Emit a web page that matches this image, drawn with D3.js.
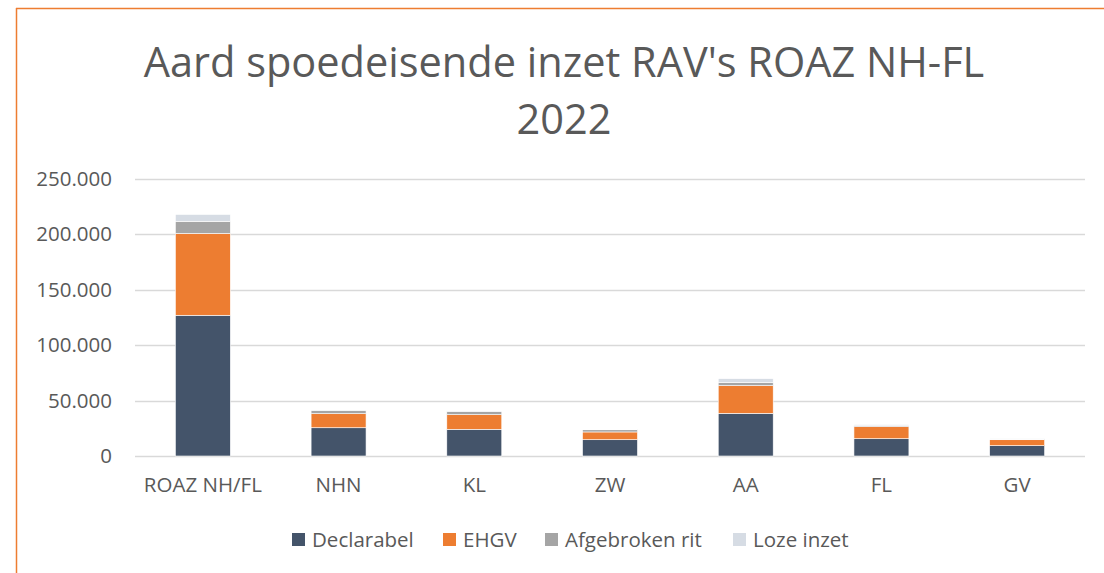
<!DOCTYPE html>
<html>
<head>
<meta charset="utf-8">
<script src="https://cdn.jsdelivr.net/npm/d3@7"></script>
<style>
  html, body { margin: 0; padding: 0; background: #ffffff; }
  svg { display: block; }
  text { font-family: "Open Sans", "Noto Sans", sans-serif; fill: #595959; }
</style>
</head>
<body>
<svg id="chart" width="1104" height="573"></svg>
<script>
// Regions (RAV areas) within ROAZ NH-FL
const categories = ["ROAZ NH/FL", "NHN", "KL", "ZW", "AA", "FL", "GV"];

// Number of urgent ambulance deployments per type, 2022
const declarabel = [127000, 25500, 24100, 14700, 38500, 15600, 9300];
const ehgv       = [ 73800, 12700, 13200,  7000, 25000, 10900, 5400];
const afgebroken = [ 11000,  2700,  2700,  2000,  2700,  1000,  500];
const lozeInzet  = [  6200,   500,   500,   400,  3600,   800,  500];

const seriesNames = ["Declarabel", "EHGV", "Afgebroken rit", "Loze inzet"];
const seriesValues = [declarabel, ehgv, afgebroken, lozeInzet];
const seriesColors = ["#44546A", "#ED7D31", "#A5A5A5", "#D6DCE4"];

const yTicks = [0, 50000, 100000, 150000, 200000, 250000];
const titleLines = ["Aard spoedeisende inzet RAV's ROAZ NH-FL", "2022"];

const svg = d3.select("#chart");

// Chart frame (only top and left edges are within view)
svg.append("line").attr("x1", 16).attr("x2", 1104).attr("y1", 8.5).attr("y2", 8.5)
  .attr("stroke", "#ED7D31").attr("stroke-width", 1.5);
svg.append("line").attr("x1", 16.5).attr("x2", 16.5).attr("y1", 8).attr("y2", 573)
  .attr("stroke", "#ED7D31").attr("stroke-width", 1.5);

// Title
svg.append("text")
  .attr("x", 564).attr("text-anchor", "middle")
  .style("font-size", "41.5px")
  .selectAll("tspan").data(titleLines).join("tspan")
  .attr("x", 564)
  .attr("y", (d, i) => 77 + i * 57)
  .text(d => d);

const plot = { left: 135, right: 1085, top: 179, bottom: 456 };

const x = d3.scaleBand().domain(categories)
  .range([plot.left, plot.right]).paddingInner(0.595).paddingOuter(0.2975);
const y = d3.scaleLinear().domain([0, 250000]).range([plot.bottom, plot.top]);

const fmt = v => d3.format(",")(v).replace(/,/g, ".");

// Gridlines
svg.append("g").selectAll("line").data(yTicks).join("line")
  .attr("x1", plot.left).attr("x2", plot.right)
  .attr("y1", d => Math.round(y(d)) + 0.5).attr("y2", d => Math.round(y(d)) + 0.5)
  .attr("stroke", "#D9D9D9").attr("stroke-width", 1.5);

// Y axis labels
const yAxis = d3.axisLeft(y).tickValues(yTicks).tickFormat(fmt).tickSize(0).tickPadding(0);
const gy = svg.append("g").attr("transform", `translate(${plot.left - 23},0)`).call(yAxis);
gy.select(".domain").remove();
gy.selectAll("text").style("font-size", "20.5px").attr("fill", "#595959")
  .style("font-family", "'Open Sans', sans-serif");

// X axis labels
const xAxis = d3.axisBottom(x).tickSize(0).tickPadding(0);
const gx = svg.append("g").attr("transform", `translate(0,${plot.bottom + 21})`).call(xAxis);
gx.select(".domain").remove();
gx.selectAll("text").style("font-size", "20.5px").attr("fill", "#595959")
  .style("font-family", "'Open Sans', sans-serif");

// Stacked bars
const rows = categories.map((c, i) => {
  const r = { cat: c };
  seriesNames.forEach((s, j) => { r[s] = seriesValues[j][i]; });
  return r;
});
const stacked = d3.stack().keys(seriesNames)(rows);

svg.append("g").selectAll("g").data(stacked).join("g")
  .attr("fill", (d, i) => seriesColors[i])
  .selectAll("rect").data(d => d).join("rect")
  .attr("x", d => x(d.data.cat))
  .attr("width", x.bandwidth())
  .attr("y", d => y(d[1]))
  .attr("height", d => y(d[0]) - y(d[1]))
  .attr("stroke", "#ffffff").attr("stroke-width", 0.6);

// Legend
const legendX = [292, 443, 545, 733];
const lg = svg.append("g").selectAll("g").data(seriesNames).join("g")
  .attr("transform", (d, i) => `translate(${legendX[i]},533)`);
lg.append("rect").attr("width", 13).attr("height", 13)
  .attr("fill", (d, i) => seriesColors[i]);
lg.append("text").attr("x", 20).attr("y", 7).attr("dy", "0.35em")
  .style("font-size", "20.5px").text(d => d);
</script>
</body>
</html>
